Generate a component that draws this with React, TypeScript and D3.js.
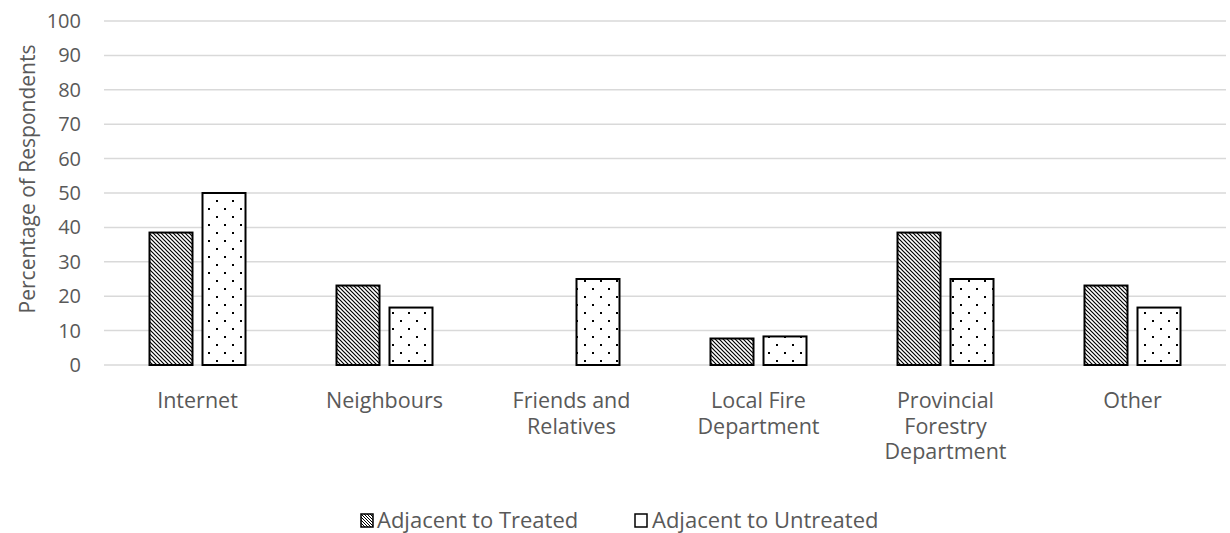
import React from "react";
import * as d3 from "d3";

const categories: string[][] = [
  ["Internet"],
  ["Neighbours"],
  ["Friends and", "Relatives"],
  ["Local Fire", "Department"],
  ["Provincial", "Forestry", "Department"],
  ["Other"],
];
const seriesNames = ["Adjacent to Treated", "Adjacent to Untreated"];
const treated = [38.5, 23.1, 0, 7.7, 38.5, 23.1];
const untreated = [50, 16.7, 25, 8.3, 25, 16.7];
const yTicks = [0, 10, 20, 30, 40, 50, 60, 70, 80, 90, 100];
const yTitle = "Percentage of Respondents";

const W = 1230;
const H = 533;
const FONT = "'Open Sans', sans-serif";
const TXT = "#595959";

export default function App() {
  const left = 104;
  const right = 1226;
  const top = 21;
  const bottom = 365;
  const x0 = d3
    .scaleBand<number>()
    .domain(categories.map((_, i) => i))
    .range([left, right])
    .paddingInner(0)
    .paddingOuter(0);
  const y = d3.scaleLinear().domain([0, 100]).range([bottom, top]);
  const barW = 43;
  const gap = 10;
  const series = [treated, untreated];
  const fills = ["url(#hatch)", "url(#dots)"];

  return (
    <svg
      width={W}
      height={H}
      style={{ position: "absolute", left: 0, top: 0, background: "#fff" }}
      fontFamily={FONT}
    >
      <defs>
        <pattern id="hatch" width={4} height={4} patternUnits="userSpaceOnUse">
          <rect width={4} height={4} fill="#fff" />
          <path d="M-1,-1 L5,5 M-1,3 L1,5 M3,-1 L5,1" stroke="#000" strokeWidth={1.2} />
        </pattern>
        <pattern id="dots" width={16} height={16} patternUnits="userSpaceOnUse">
          <rect width={16} height={16} fill="#fff" />
          <rect x={0} y={0} width={2} height={2} fill="#000" />
          <rect x={8} y={8} width={2} height={2} fill="#000" />
        </pattern>
        <pattern id="hatchL" width={3} height={3} patternUnits="userSpaceOnUse">
          <rect width={3} height={3} fill="#fff" />
          <path d="M-1,-1 L4,4 M-1,2 L1,4 M2,-1 L4,1" stroke="#000" strokeWidth={1} />
        </pattern>
        <pattern id="dotsL" width={14} height={14} patternUnits="userSpaceOnUse">
          <rect width={14} height={14} fill="#fff" />
          <rect x={3} y={3} width={2} height={2} fill="#000" />
        </pattern>
      </defs>

      {yTicks.map((t) => (
        <g key={t}>
          <line x1={left} x2={right} y1={y(t)} y2={y(t)} stroke="#d9d9d9" strokeWidth={1.5} />
          <text x={81} y={y(t)} dy="0.35em" textAnchor="end" fontSize={20} fill={TXT}>
            {t}
          </text>
        </g>
      ))}

      {categories.map((_, i) => {
        const c = (x0(i) as number) + x0.bandwidth() / 2;
        return series.map((s, j) => {
          const v = s[i];
          if (v <= 0) return null;
          const xb = j === 0 ? c - gap / 2 - barW : c + gap / 2;
          return (
            <rect
              key={`${i}-${j}`}
              x={xb}
              y={y(v)}
              width={barW}
              height={y(0) - y(v)}
              fill={fills[j]}
              stroke="#000"
              strokeWidth={2}
            />
          );
        });
      })}

      {categories.map((lines, i) => {
        const c = (x0(i) as number) + x0.bandwidth() / 2;
        return (
          <text key={i} textAnchor="middle" fontSize={21.5} fill={TXT}>
            {lines.map((l, k) => (
              <tspan key={k} x={c} y={408 + k * 25.5}>
                {l}
              </tspan>
            ))}
          </text>
        );
      })}

      <text
        transform={`translate(35, 179) rotate(-90)`}
        textAnchor="middle"
        fontSize={21}
        fill={TXT}
      >
        {yTitle}
      </text>

      <g>
        <rect x={361} y={514} width={12} height={13} fill="url(#hatchL)" stroke="#000" strokeWidth={1.5} />
        <text x={377} y={528} fontSize={22} fill={TXT}>
          {seriesNames[0]}
        </text>
        <rect x={635} y={514} width={12} height={13} fill="url(#dotsL)" stroke="#000" strokeWidth={1.5} />
        <text x={652} y={528} fontSize={22} fill={TXT}>
          {seriesNames[1]}
        </text>
      </g>
    </svg>
  );
}
